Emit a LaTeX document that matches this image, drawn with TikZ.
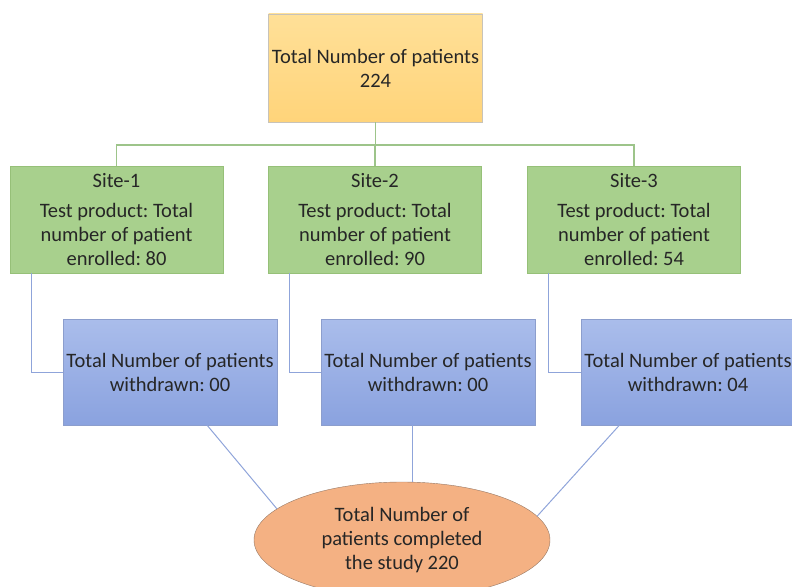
\documentclass[tikz,border=0pt]{standalone}
\usepackage{fontspec}
\setmainfont{Carlito}
\frenchspacing
\usetikzlibrary{shapes.geometric,calc}
\definecolor{txt}{HTML}{262626}
\definecolor{gline}{HTML}{9DC48A}
\definecolor{bline}{HTML}{8FA4DA}
\definecolor{toptop}{RGB}{255,224,152}
\definecolor{topbot}{RGB}{255,212,122}
\definecolor{topdraw}{RGB}{200,195,185}
\definecolor{sitedraw}{RGB}{150,192,120}
\definecolor{sitefill}{RGB}{168,208,141}
\definecolor{wdraw}{RGB}{140,158,205}
\definecolor{wtop}{RGB}{170,189,235}
\definecolor{wbot}{RGB}{138,162,223}
\definecolor{edraw}{RGB}{150,120,100}
\definecolor{efill}{RGB}{244,177,131}
\tikzset{
  every node/.style={text=txt,font=\fontsize{20.5pt}{24pt}\selectfont,align=center,inner sep=0pt},
  topbox/.style={rectangle,draw=topdraw,top color=toptop,bottom color=topbot,minimum width=214pt,minimum height=108pt},
  sitebox/.style={rectangle,draw=sitedraw,fill=sitefill,minimum width=213pt,minimum height=107pt},
  wbox/.style={rectangle,draw=wdraw,top color=wtop,bottom color=wbot,minimum width=214pt,minimum height=106pt},
  endell/.style={ellipse,draw=edraw,fill=efill,minimum width=296pt,minimum height=116pt},
  gconn/.style={draw=gline,line width=1.1pt},
  bconn/.style={draw=bline,line width=1pt}
}
\begin{document}
\begin{tikzpicture}[x=1pt,y=-1pt]
\useasboundingbox (0,0) rectangle (792,586);
\node[topbox] (top) at (375.5,68) {Total Number of patients\\224};
\node[sitebox] (site1) at (116.5,219.5) {Site-1\\[6pt]Test product: Total\\number of patient\\enrolled: 80};
\node[sitebox] (site2) at (375,219.5) {Site-2\\[6pt]Test product: Total\\number of patient\\enrolled: 90};
\node[sitebox] (site3) at (634,219.5) {Site-3\\[6pt]Test product: Total\\number of patient\\enrolled: 54};
\node[wbox] (w1) at (170,372) {Total Number of patients\\withdrawn: 00};
\node[wbox] (w2) at (428,372) {Total Number of patients\\withdrawn: 00};
\node[wbox] (w3) at (688,372) {Total Number of patients\\withdrawn: 04};
\node[endell] (end) at (402,540) {\fontsize{20.5pt}{26pt}\selectfont Total Number of\\patients completed\\the study 220};
\coordinate (bus) at (375.5,145);
\draw[gconn] (top.south) -- (bus);
\draw[gconn] (site1.north) -- (site1.north |- bus) -- (site3.north |- bus) -- (site3.north);
\draw[gconn] (site2.north) -- (site2.north |- bus);
\draw[bconn] ($(site1.south west)!0.1!(site1.south east)$) |- (w1.west);
\draw[bconn] ($(site2.south west)!0.1!(site2.south east)$) |- (w2.west);
\draw[bconn] ($(site3.south west)!0.1!(site3.south east)$) |- (w3.west);
\draw[bconn] ($(w1.south west)!0.673!(w1.south east)$) -- (end.166);
\coordinate (m2) at ($(w2.south west)!0.43!(w2.south east)$);
\draw[bconn] (m2) -- (m2 |- end.north);
\draw[bconn] ($(w3.south west)!0.18!(w3.south east)$) -- (end.10);
\end{tikzpicture}
\end{document}
